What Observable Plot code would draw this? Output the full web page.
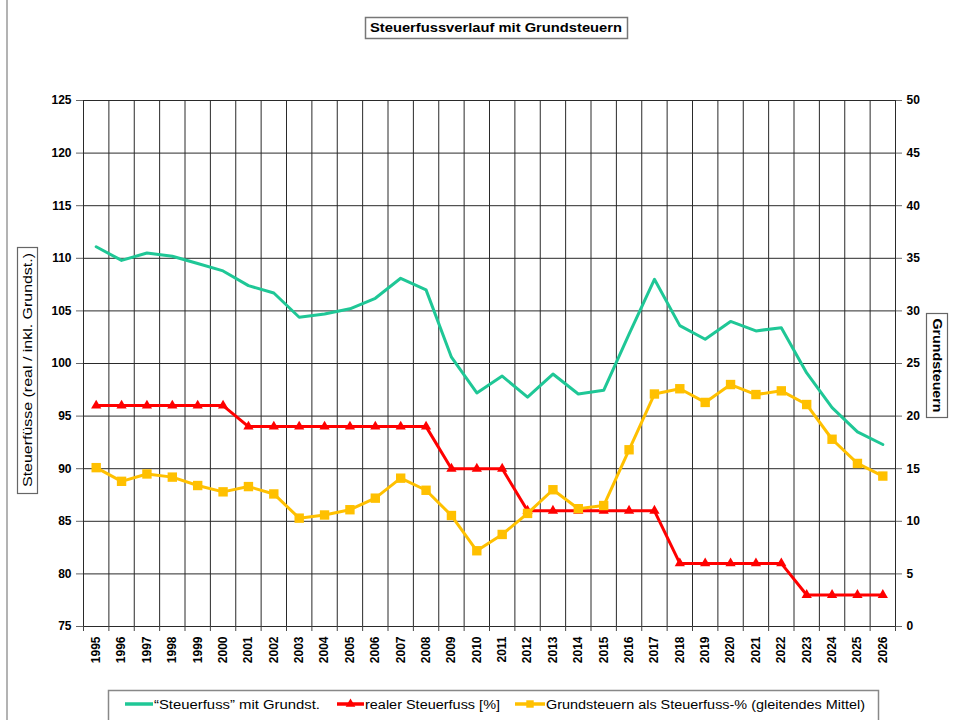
<!DOCTYPE html>
<html><head><meta charset="utf-8">
<script src="https://cdn.jsdelivr.net/npm/d3@7"></script>
<script src="https://cdn.jsdelivr.net/npm/@observablehq/plot@0.6"></script>
<style>
body{margin:0;background:#fff;}
#wrap{position:relative;width:956px;height:720px;overflow:hidden;}
</style>
</head><body><div id="wrap"></div>
<script>
// ---- data ----
const years = [1995,1996,1997,1998,1999,2000,2001,2002,2003,2004,2005,2006,2007,2008,2009,2010,
               2011,2012,2013,2014,2015,2016,2017,2018,2019,2020,2021,2022,2023,2024,2025,2026];
// "Steuerfuss" mit Grundst. (left axis)
const steuerfussMitGrundst = [111.1,109.8,110.5,110.2,109.5,108.8,107.4,106.7,104.4,104.7,105.2,106.2,108.1,107.0,100.6,97.2,
                              98.8,96.8,99.0,97.1,97.45,102.8,108.0,103.6,102.3,104.0,103.1,103.4,99.1,95.8,93.5,92.3];
// realer Steuerfuss [%] (left axis)
const realerSteuerfuss = [96,96,96,96,96,96,94,94,94,94,94,94,94,94,90,90,
                          90,86,86,86,86,86,86,81,81,81,81,81,78,78,78,78];
// Grundsteuern als Steuerfuss-% (gleitendes Mittel) (right axis)
const grundsteuern = [15.1,13.8,14.5,14.2,13.4,12.8,13.3,12.6,10.3,10.6,11.1,12.2,14.1,12.95,10.55,7.2,
                      8.75,10.75,13.0,11.2,11.5,16.8,22.1,22.6,21.3,23.0,22.05,22.4,21.1,17.8,15.5,14.3];
const leftTicks = [75,80,85,90,95,100,105,110,115,120,125];
const rightOffset = 75; // right axis 0..50 shares the 75..125 range

const title = "Steuerfussverlauf mit Grundsteuern";
const leftTitle = "Steuerfüsse (real / inkl. Grundst.)";
const rightTitle = "Grundsteuern";
const seriesNames = ["\u201CSteuerfuss\u201D mit Grundst.", "realer Steuerfuss [%]", "Grundsteuern als Steuerfuss-% (gleitendes Mittel)"];
const colors = ["#1fc796", "#ff0000", "#ffc000"];

const data = years.map((y,i)=>({year:y, green:steuerfussMitGrundst[i], red:realerSteuerfuss[i], yellow:grundsteuern[i]}));
const bounds = years.map(y=>y-0.5).concat([years[years.length-1]+0.5]);

const font = '"Liberation Sans", Arial, sans-serif';

const chart = Plot.plot({
  width:956, height:720,
  marginLeft:83, marginRight:61, marginTop:100, marginBottom:94,
  x:{domain:[bounds[0], bounds[bounds.length-1]]},
  y:{domain:[75,125]},
  style:{fontFamily:font, fontSize:"12px", fontWeight:"bold", color:"#000", background:"transparent", overflow:"visible"},
  marks:[
    Plot.ruleY(leftTicks, {stroke:"#2a2a2a", strokeWidth:1}),
    Plot.ruleX(bounds, {stroke:"#2a2a2a", strokeWidth:1}),
    Plot.axisY({ticks:leftTicks, anchor:"left", tickSize:7, tickPadding:5, label:null, stroke:"#666"}),
    Plot.axisY({ticks:leftTicks, anchor:"right", tickSize:6, tickPadding:5, label:null, tickFormat:d=>String(d-rightOffset), stroke:"#666"}),
    Plot.axisX({ticks:bounds, anchor:"bottom", tickSize:5, tickFormat:()=>"", label:null, stroke:"#444"}),
    Plot.axisX({ticks:years, anchor:"bottom", tickSize:0, tickPadding:10, tickRotate:-90, tickFormat:d=>String(d), label:null}),
    Plot.line(data, {x:"year", y:"green", stroke:colors[0], strokeWidth:3}),
    Plot.line(data, {x:"year", y:"red", stroke:colors[1], strokeWidth:3}),
    Plot.dot(data, {x:"year", y:"red", symbol:"triangle", fill:colors[1], stroke:"none", r:3.8}),
    Plot.line(data, {x:"year", y:d=>d.yellow+rightOffset, stroke:colors[2], strokeWidth:3}),
    Plot.dot(data, {x:"year", y:d=>d.yellow+rightOffset, symbol:"square", fill:colors[2], stroke:"none", r:5.3})
  ]
});
document.getElementById("wrap").appendChild(chart);

// ---- decorations: frame line, titles, legend ----
const svg = d3.select(chart);
const deco = svg.append("g").attr("font-family", font).attr("font-weight","normal").attr("fill","#000").attr("text-anchor","start");

deco.append("line").attr("x1",7).attr("x2",7).attr("y1",0).attr("y2",720).attr("stroke","#9a9a9a").attr("stroke-width",1.5);

// title
deco.append("rect").attr("x",365.5).attr("y",17.5).attr("width",262).attr("height",21)
  .attr("fill","#fff").attr("stroke","#777").attr("stroke-width",1.5);
deco.append("text").attr("x",496).attr("y",32).attr("text-anchor","middle")
  .attr("font-size",12).attr("font-weight","bold").attr("textLength",252).attr("lengthAdjust","spacingAndGlyphs").text(title);

// left axis title
deco.append("rect").attr("x",17.5).attr("y",247.5).attr("width",20).attr("height",246)
  .attr("fill","#fff").attr("stroke","#666").attr("stroke-width",1.2);
deco.append("text").attr("transform","translate(32,370) rotate(-90)").attr("text-anchor","middle")
  .attr("font-size",12.5).attr("textLength",234).attr("lengthAdjust","spacingAndGlyphs").text(leftTitle);

// right axis title
deco.append("rect").attr("x",926.5).attr("y",313.5).attr("width",21).attr("height",104)
  .attr("fill","#fff").attr("stroke","#666").attr("stroke-width",1.2);
deco.append("text").attr("transform","translate(932.5,365.5) rotate(90)").attr("text-anchor","middle")
  .attr("font-size",12.5).attr("font-weight","bold").attr("textLength",94).attr("lengthAdjust","spacingAndGlyphs").text(rightTitle);

// legend
deco.append("rect").attr("x",108.5).attr("y",690.5).attr("width",770).attr("height",40)
  .attr("fill","#fff").attr("stroke","#888").attr("stroke-width",1.5);
const ly = 704;
const items = [
  {x1:125, x2:153, tx:154, tw:166, sym:null},
  {x1:337, x2:364, tx:365, tw:135, sym:"triangle"},
  {x1:515, x2:545, tx:546, tw:319, sym:"square"}
];
items.forEach((it,i)=>{
  deco.append("line").attr("x1",it.x1).attr("x2",it.x2).attr("y1",ly).attr("y2",ly)
    .attr("stroke",colors[i]).attr("stroke-width",3.5);
  const cx=(it.x1+it.x2)/2;
  if(it.sym==="triangle") deco.append("path").attr("d",d3.symbol(d3.symbolTriangle, 40)()).attr("transform",`translate(${cx},${ly})`).attr("fill",colors[i]);
  if(it.sym==="square") deco.append("path").attr("d",d3.symbol(d3.symbolSquare, 55)()).attr("transform",`translate(${cx},${ly})`).attr("fill",colors[i]);
  deco.append("text").attr("x",it.tx).attr("y",ly+4.5).attr("font-size",12.5).attr("text-anchor","start")
    .attr("textLength",it.tw).attr("lengthAdjust","spacingAndGlyphs").text(seriesNames[i]);
});
</script>
</body></html>
